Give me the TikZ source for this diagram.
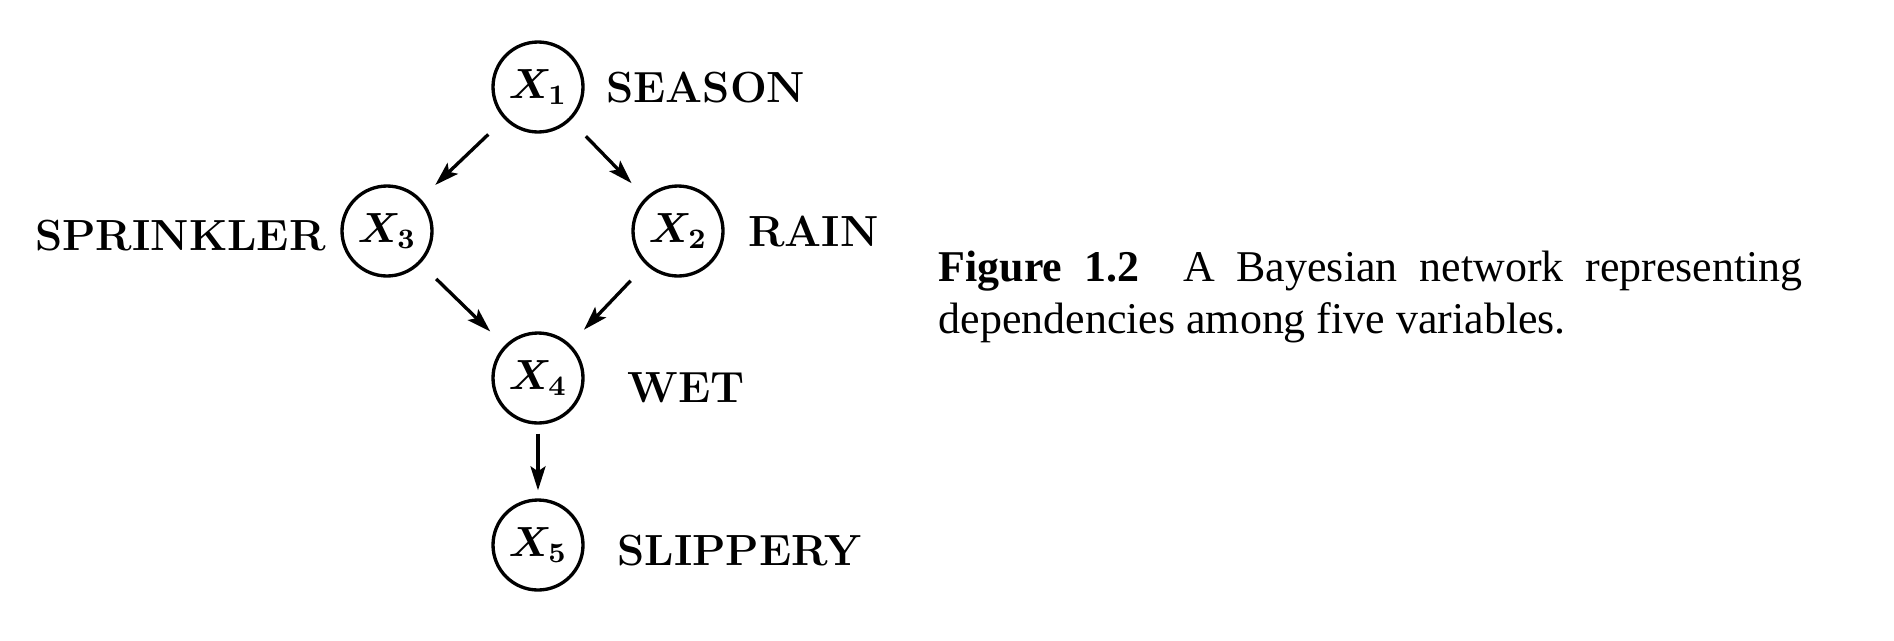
\documentclass[tikz,border=0pt]{standalone}
\usepackage{amsmath,amssymb}
\usepackage{fontspec}
\newfontfamily\captionfont{Liberation Serif}
\usepackage{tikz}
\usetikzlibrary{arrows.meta,positioning}

\begin{document}
\begin{tikzpicture}[
    var/.style={draw, circle, line width=0.95pt, minimum size=0.9cm, inner sep=0pt,
        font=\fontsize{12}{14}\selectfont\boldmath},
    lbl/.style={inner sep=0pt, text depth=0pt, font=\fontsize{12.4}{14}\selectfont\bfseries},
    dep/.style={-{Stealth[length=2.4mm,width=1.5mm,inset=0.5mm]}, line width=0.95pt,
        shorten <=0.22cm, shorten >=0.2cm}
]
    \useasboundingbox (0,0) rectangle (18.94,6.40);

    % Variables
    \node[var] (x1) at (5.38,5.53) {$X_1$};
    \node[var] (x3) at (3.87,4.09) {$X_3$};
    \node[var] (x2) at (6.78,4.09) {$X_2$};
    \node[var] (x4) at (5.38,2.62) {$X_4$};
    \node[var] (x5) at (5.38,0.95) {$X_5$};

    % Names
    \node[lbl, right=0.21 of x1] (season) {SEASON};
    \node[lbl, left=0.14 of x3, yshift=-0.04cm] (sprinkler) {SPRINKLER};
    \node[lbl, right=0.23 of x2] (rain) {RAIN};
    \node[lbl, right=0.42 of x4, yshift=-0.1cm] (wet) {WET};
    \node[lbl, right=0.32 of x5, yshift=-0.05cm] (slippery) {SLIPPERY};

    % Dependencies
    \draw[dep] (x1) -- (x3);
    \draw[dep] (x1) -- (x2);
    \draw[dep] (x3) -- (x4);
    \draw[dep] (x2) -- (x4);
    \draw[dep, shorten <=0.09cm, shorten >=0.08cm] (x4) -- (x5);

    % Caption
    \node[anchor=north west, inner sep=0pt, text width=245.8pt, align=justify,
        font=\captionfont\fontsize{12.5}{15}\selectfont] (caption) at (9.38,3.90)
        {\textbf{Figure 1.2}\quad A Bayesian network representing dependencies among five variables.};
\end{tikzpicture}
\end{document}
